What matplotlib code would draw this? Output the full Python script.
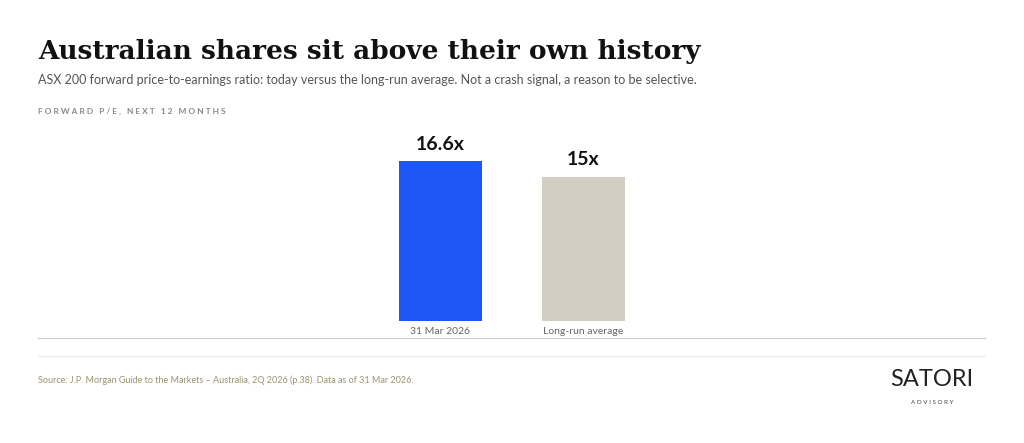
import matplotlib.pyplot as plt
from matplotlib.lines import Line2D

categories = ["31 Mar 2026", "Long-run average"]
values = [16.6, 15.0]
value_labels = ["16.6x", "15x"]
colors = ["#1f55f5", "#d2cec1"]

W, H = 1024, 443
fig = plt.figure(figsize=(W / 100, H / 100), dpi=100)
fig.patch.set_facecolor("white")

def fy(py):
    return 1 - py / H

# axes spans x 38..985 px, y 321 (zero) .. 130 px
ax = fig.add_axes([38 / W, fy(321), (985 - 38) / W, (321 - 130) / H])
ax.set_ylim(0, 191 / 9.63)
half = (985 - 38) / 2 / 143
ax.set_xlim(0.5 - half, 0.5 + half)
xs = range(len(categories))
bars = ax.bar(xs, values, width=83 / 143, color=colors)
for x, v, lab in zip(xs, values, value_labels):
    ax.text(x, v + 0.85, lab, ha="center", va="bottom", fontsize=14,
            fontweight="bold", family="Lato", color="#111111")
ax.set_xticks(list(xs))
ax.set_xticklabels(categories, fontsize=7.5, color="#666666", family="Lato")
ax.tick_params(axis="x", length=0, pad=4)
ax.set_yticks([])
for s in ax.spines.values():
    s.set_visible(False)

fig.add_artist(Line2D([38 / W, 985 / W], [fy(338)] * 2, color="#cfcfcf", lw=0.8))
fig.add_artist(Line2D([38 / W, 985 / W], [fy(356)] * 2, color="#ebebeb", lw=0.8))

fig.text(38 / W, fy(52), "Australian shares sit above their own history",
         fontsize=19, fontweight="bold", family="DejaVu Serif", va="center", color="#111111")
fig.text(38 / W, fy(80), "ASX 200 forward price-to-earnings ratio: today versus the long-run average. "
         "Not a crash signal, a reason to be selective.",
         fontsize=9, family="Lato", va="center", color="#555555")
fig.text(38 / W, fy(111), "F O R W A R D   P / E ,   N E X T   1 2   M O N T H S",
         fontsize=6, family="Lato", fontweight="bold", va="center", color="#8a8a8a")
fig.text(38 / W, fy(380), "Source: J.P. Morgan Guide to the Markets \u2013 Australia, 2Q 2026 (p.38). "
         "Data as of 31 Mar 2026.", fontsize=6.5, family="Lato", va="center", color="#9a9470")
fig.text(932 / W, fy(380), "SATORI", fontsize=17, family="Lato", ha="center",
         va="center", color="#222222")
fig.text(932 / W, fy(403), "A D V I S O R Y", fontsize=4.5, family="Lato", ha="center",
         va="center", color="#444444")

fig.savefig("out.png", dpi=100, facecolor="white")
